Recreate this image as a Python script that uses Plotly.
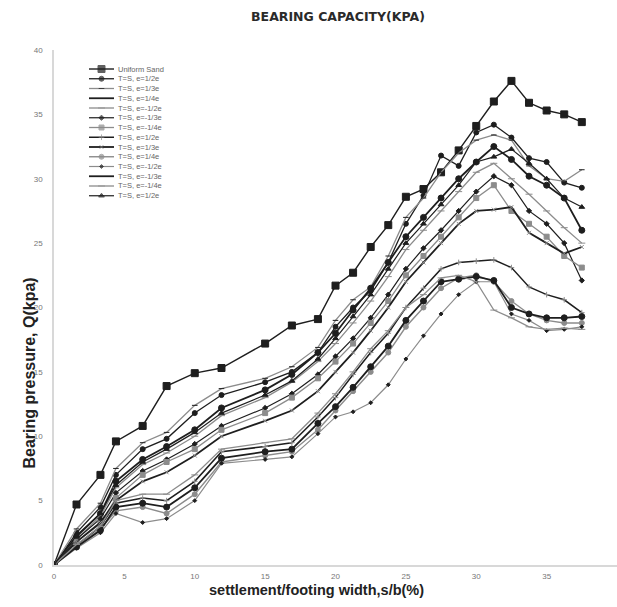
import plotly.graph_objects as go

# settlement / footing width (%)
X = [0, 1.6, 3.3, 4.4, 6.3, 8.0, 10.0, 11.9, 15.0, 16.9, 18.75, 20.0, 21.25, 22.5,
     23.75, 25.0, 26.25, 27.5, 28.75, 30.0, 31.25, 32.5, 33.75, 35.0, 36.25, 37.5]

uniform = [0, 4.7, 7.0, 9.6, 10.8, 13.9, 14.9, 15.3, 17.2, 18.6, 19.1, 21.7, 22.7, 24.7,
           26.4, 28.6, 29.2, 30.5, 32.2, 34.1, 36.0, 37.6, 35.9, 35.3, 35.0, 34.4]
s1 = [0, 2.5, 4.5, 7.0, 9.0, 9.8, 11.8, 13.2, 14.2, 15.0, 16.5, 18.5, 20.0, 21.3,
      23.5, 26.5, 28.7, 31.8, 31.0, 33.6, 34.2, 33.2, 31.6, 31.3, 29.7, 29.3]
s2 = [0, 2.8, 4.8, 7.5, 9.5, 10.3, 12.4, 13.7, 14.5, 15.4, 16.9, 19.0, 20.6, 21.6,
      24.0, 27.0, 28.5, 30.5, 32.0, 33.0, 33.4, 33.0, 31.0, 30.0, 29.8, 30.7]
s3 = [0, 2.2, 4.0, 6.5, 8.2, 9.2, 10.5, 12.2, 13.6, 14.8, 16.5, 18.0, 19.8, 21.5,
      23.5, 25.5, 27.0, 28.5, 30.0, 31.3, 32.5, 31.5, 30.2, 29.5, 28.5, 26.0]
s4 = [0, 2.0, 3.8, 6.0, 7.8, 8.7, 10.0, 11.6, 13.0, 14.2, 15.8, 17.2, 18.8, 20.5,
      22.4, 24.5, 26.0, 27.5, 29.0, 30.5, 31.2, 30.0, 28.8, 27.5, 26.2, 25.0]
s5 = [0, 2.0, 3.6, 5.6, 7.3, 8.2, 9.4, 10.8, 12.2, 13.3, 14.8, 16.2, 17.6, 19.2,
      21.0, 23.0, 24.6, 26.0, 27.5, 29.0, 30.2, 29.5, 27.5, 26.5, 25.0, 22.1]
s6 = [0, 1.8, 3.2, 5.2, 7.0, 8.0, 9.0, 10.5, 11.8, 13.0, 14.5, 15.8, 17.2, 18.8,
      20.5, 22.5, 24.0, 25.5, 27.0, 28.5, 29.5, 27.5, 26.5, 25.5, 24.0, 23.1]
s7 = [0, 1.5, 3.0, 4.8, 5.2, 5.0, 6.5, 8.8, 9.2, 9.5, 11.5, 13.0, 14.8, 16.5,
      18.0, 20.0, 21.5, 23.0, 23.5, 23.6, 23.7, 23.1, 21.6, 21.0, 20.6, 19.6]
s8 = [0, 1.8, 3.3, 5.0, 6.5, 7.2, 8.5, 10.0, 11.2, 12.0, 13.5, 15.0, 16.5, 18.2,
      20.0, 22.0, 23.5, 25.0, 26.5, 27.5, 27.6, 27.8, 25.8, 25.0, 24.2, 24.7]
s9 = [0, 1.5, 2.8, 4.2, 4.5, 4.0, 5.5, 8.0, 8.5, 8.8, 10.5, 12.0, 13.5, 15.0,
      16.5, 18.5, 20.0, 21.5, 22.3, 22.5, 22.0, 20.5, 19.5, 19.0, 18.8, 18.8]
s10 = [0, 1.3, 2.5, 4.0, 3.3, 3.6, 5.0, 7.9, 8.2, 8.4, 10.2, 11.5, 11.9, 12.6,
       14.0, 16.0, 17.8, 19.5, 21.0, 22.0, 22.0, 19.5, 19.0, 18.2, 18.3, 18.5]
s11 = [0, 1.4, 2.7, 4.5, 4.8, 4.5, 6.0, 8.3, 8.8, 9.0, 11.0, 12.3, 13.8, 15.4,
       17.0, 19.0, 20.5, 22.0, 22.2, 22.4, 22.1, 20.0, 19.5, 19.2, 19.2, 19.3]
s12 = [0, 1.6, 3.0, 5.0, 5.5, 5.5, 7.0, 9.0, 9.5, 9.8, 11.8, 13.3, 15.0, 16.8,
       18.2, 20.0, 21.0, 22.3, 22.5, 22.0, 19.8, 19.2, 18.5, 18.3, 18.4, 18.3]
s13 = [0, 2.3, 4.0, 6.2, 8.0, 9.0, 10.3, 11.8, 13.2, 14.3, 16.0, 17.6, 19.3, 21.0,
       23.0, 25.0, 26.5, 28.0, 29.5, 31.3, 31.7, 32.3, 31.2, 30.0, 28.5, 27.8]

names = ["Uniform Sand", "T=S, e=1/2e", "T=S, e=1/3e", "T=S, e=1/4e", "T=S, e=-1/2e",
         "T=S, e=-1/3e", "T=S, e=-1/4e", "T=S, e=1/2e", "T=S, e=1/3e", "T=S, e=1/4e",
         "T=S, e=-1/2e", "T=S, e=-1/3e", "T=S, e=-1/4e", "T=S, e=1/2e"]
series = [uniform, s1, s2, s3, s4, s5, s6, s7, s8, s9, s10, s11, s12, s13]

BK = "#1e1e1e"
GR = "#8c8c8c"
# (line color, line width, marker symbol, marker size, marker color)
styles = [
    (BK, 1.4, "square", 7, BK),
    (BK, 1.3, "circle", 5, BK),
    (GR, 1.3, "line-ew", 4, BK),
    (BK, 1.8, "circle", 0, BK),
    (GR, 1.3, "line-ew", 5, GR),
    (BK, 1.2, "diamond", 4, BK),
    (GR, 1.3, "square", 5, GR),
    (BK, 1.5, "cross-thin", 4, GR),
    (BK, 1.8, "x-thin", 4, GR),
    (GR, 1.4, "circle", 5, GR),
    (GR, 1.2, "diamond", 3, BK),
    (BK, 1.8, "circle", 0, BK),
    (GR, 1.3, "line-ew", 5, GR),
    (BK, 1.2, "triangle-up", 5, BK),
]

fig = go.Figure()
for nm, ys, st in zip(names, series, styles):
    lc, lw, sym, ms, mc = st
    fig.add_trace(go.Scatter(
        x=X, y=ys, mode="lines+markers", name=nm, showlegend=False,
        line=dict(color=lc, width=lw),
        marker=dict(symbol=sym, size=ms, color=mc, line=dict(color=mc, width=1)),
    ))

# manual compact legend (paper-fraction coordinates on overlay axes)
L, T, B, R = 54, 50, 565, 617
W, H = R - L, B - T
x0, x1 = (89 - L) / W, (114 - L) / W
xm = (x0 + x1) / 2
for i, (nm, st) in enumerate(zip(names, styles)):
    lc, lw, sym, ms, mc = st
    py = 69 + 9.75 * i
    yy = (B - py) / H
    fig.add_trace(go.Scatter(
        x=[x0, xm, x1], y=[yy, yy, yy], xaxis="x2", yaxis="y2",
        mode="lines+markers", showlegend=False, hoverinfo="skip",
        line=dict(color=lc, width=lw),
        marker=dict(symbol=sym, size=[0, ms, 0], color=mc, line=dict(color=mc, width=1)),
    ))
    fig.add_annotation(x=(117 - L) / W, y=yy, xref="paper", yref="paper",
                       text=nm, showarrow=False, xanchor="left", yanchor="middle",
                       borderpad=0,
                       font=dict(family="Liberation Sans, Arial", size=7.5, color="#666"))

fig.add_annotation(x=(18 - L) / W, y=(B - 373) / H, xref="paper", yref="paper",
                   text="<b>Bearing pressure, Q(kpa)</b>", showarrow=False, textangle=-90,
                   font=dict(family="Liberation Sans, Arial", size=16, color="#222"))
fig.add_annotation(x=(316 - L) / W, y=(B - 599) / H, xref="paper", yref="paper",
                   text="<b>settlement/footing width,s/b(%)</b>", showarrow=False,
                   borderpad=0,
                   font=dict(family="Liberation Sans, Arial", size=14.5, color="#222"))

fig.update_layout(
    width=617, height=607,
    margin=dict(l=L, r=617 - R, t=T, b=607 - B),
    paper_bgcolor="white", plot_bgcolor="white",
    title=dict(text="<b>BEARING CAPACITY(KPA)</b>", x=(338) / 617, xanchor="center",
               y=1 - 17 / 607, yanchor="middle",
               font=dict(family="DejaVu Sans, Verdana", size=12.5, color="#2a2a2a")),
    xaxis=dict(range=[0, 40], tickvals=[0, 5, 10, 15, 20, 25, 30, 35, 40],
               showgrid=False, zeroline=False, showline=True, linecolor="#d8d8d8",
               linewidth=1.5, ticks="outside", ticklen=3, tickcolor="white",
               tickfont=dict(family="Liberation Sans, Arial", size=8, color="#777")),
    yaxis=dict(range=[0, 40], tickvals=[0, 5, 10, 15, 20, 25, 30, 35, 40],
               showgrid=False, zeroline=False, showline=True, linecolor="#d8d8d8",
               linewidth=1.5, ticks="outside", ticklen=8, tickcolor="white",
               tickfont=dict(family="Liberation Sans, Arial", size=8, color="#777")),
    xaxis2=dict(overlaying="x", range=[0, 1], visible=False),
    yaxis2=dict(overlaying="y", range=[0, 1], visible=False),
)

fig.write_html("out.html")
